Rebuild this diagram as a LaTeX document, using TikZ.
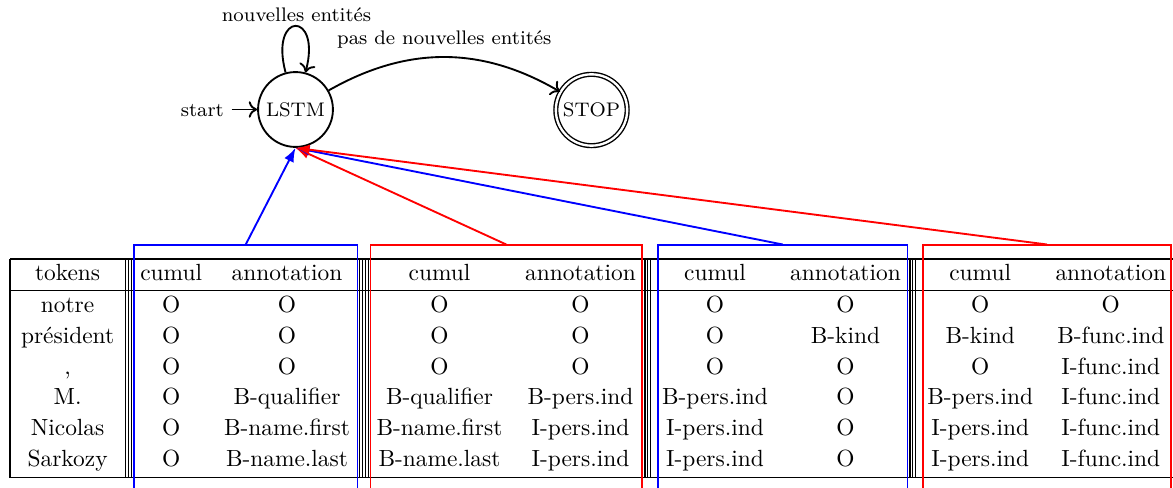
\documentclass[tikz,border=0pt]{standalone}
\usetikzlibrary{arrows.meta,fit}
\begin{document}
\begin{tikzpicture}[x=0.4274pt,y=0.4274pt,
  state/.style={circle,draw,line width=0.8pt,minimum size=32pt,inner sep=0pt,font=\fontsize{8.4}{10}\selectfont},
  accept/.style={circle,draw,double,double distance=1pt,line width=0.6pt,minimum size=30.5pt,inner sep=0pt,font=\fontsize{8.4}{10}\selectfont},
  lbl/.style={inner sep=0pt,font=\fontsize{8.4}{10}\selectfont},
  aut/.style={-{Computer Modern Rightarrow[length=3.6pt,width=7pt]},line width=0.8pt},
  cell/.style={anchor=base,inner sep=0pt,font=\fontsize{10}{12}\selectfont},
  rulel/.style={line width=0.6pt},
  colbox/.style={inner sep=0pt,line width=0.7pt},
  carrow/.style={-{Latex[length=6pt,width=4.4pt]},line width=0.8pt}]
\path[use as bounding box,clip] (0,0) rectangle (1173,-488);

% automaton
\node[state] (lstm) at (295.5,-109.5) {LSTM};
\node[accept] (stop) at (591.5,-110) {STOP};
\node[lbl,anchor=base] (start) at (202.3,-116.7) {start};
\coordinate (s0) at (231.5,-109.5);
\draw[aut] (s0) -- (lstm.west);
\draw[aut] (lstm.105) .. controls +(105:64) and +(75:64) .. (lstm.75);
\node[lbl,anchor=base] (l1) at (296.5,-21.7) {nouvelles entités};
\draw[aut] (lstm) to[bend left=30] (stop);
\node[lbl,anchor=base] (l2) at (444.3,-45) {pas de nouvelles entités};

% table rules
\foreach \yy in {259,290.7,477.7}
  \draw[rulel] (10,-\yy) -- (1180,-\yy);
\foreach \xx in {10,125.7,128.7,131.5,359.5,362.5,365.5,368.3,645,647.7,650.3,910,912.7,915.3}
  \draw[rulel] (\xx,-259) -- (\xx,-477.7);

% table cells
\foreach \y/\rn/\t/\ca/\aa/\cb/\ab/\cc/\ac/\cd/\ad in {
  281/h/tokens/cumul/annotation/cumul/annotation/cumul/annotation/cumul/annotation,
  312.5/r1/notre/O/O/O/O/O/O/O/O,
  343.3/r2/président/O/O/O/O/O/B-kind/B-kind/B-func.ind,
  374.1/r3/{,}/O/O/O/O/O/O/O/I-func.ind,
  404.9/r4/M./O/B-qualifier/B-qualifier/B-pers.ind/B-pers.ind/O/B-pers.ind/I-func.ind,
  435.7/r5/Nicolas/O/B-name.first/B-name.first/I-pers.ind/I-pers.ind/O/I-pers.ind/I-func.ind,
  466.5/r6/Sarkozy/O/B-name.last/B-name.last/I-pers.ind/I-pers.ind/O/I-pers.ind/I-func.ind}{
  \node[cell] (\rn-tok) at (67.6,-\y) {\t};
  \node[cell] (\rn-c1) at (171.2,-\y) {\ca};
  \node[cell] (\rn-a1) at (287,-\y) {\aa};
  \node[cell] (\rn-c2) at (439.5,-\y) {\cb};
  \node[cell] (\rn-a2) at (580.5,-\y) {\ab};
  \node[cell] (\rn-c3) at (715,-\y) {\cc};
  \node[cell] (\rn-a3) at (845.5,-\y) {\ac};
  \node[cell] (\rn-c4) at (980.2,-\y) {\cd};
  \node[cell] (\rn-a4) at (1110.8,-\y) {\ad};
}

% coloured boxes
\node[colbox,draw=blue,fit={(134,-245.3) (357.5,-520)}] (b1) {};
\node[colbox,draw=red,fit={(370.5,-245.3) (642,-520)}] (b2) {};
\node[colbox,draw=blue,fit={(657.8,-245.3) (907.5,-520)}] (b3) {};
\node[colbox,draw=red,fit={(923.2,-245.3) (1170.7,-520)}] (b4) {};

\draw[carrow,blue] (b1.north) -- (lstm.south);
\draw[carrow,red] (b2.north) -- (lstm.south);
\draw[carrow,blue] (b3.north) -- (lstm.south);
\draw[carrow,red] (b4.north) -- (lstm.south);
\end{tikzpicture}
\end{document}
